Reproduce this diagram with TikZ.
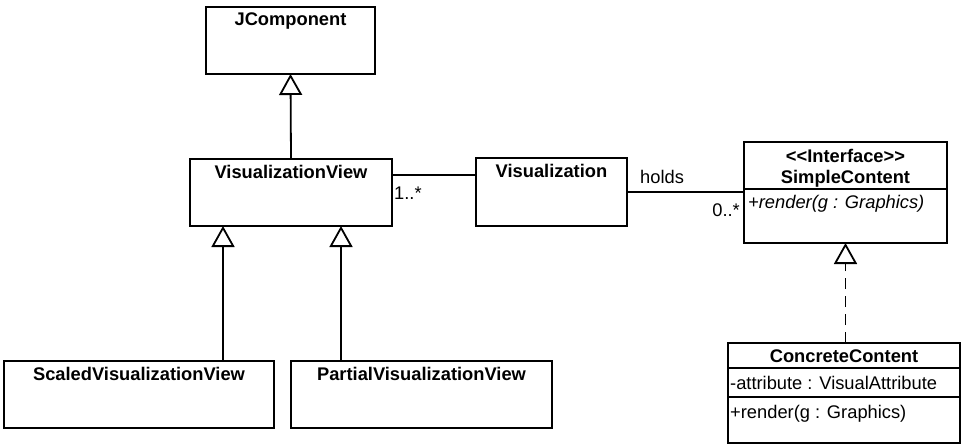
\documentclass[tikz,border=0pt]{standalone}
\usepackage{fontspec}
\setmainfont{Liberation Sans}[Ligatures=TeXOff]
\usetikzlibrary{arrows.meta}
\tikzset{
  cls/.style={draw, line width=1.8pt, anchor=north west, inner sep=0pt, outer sep=0pt},
  ttl/.style={font=\bfseries\fontsize{18.3}{21}\selectfont, anchor=base, inner sep=0pt},
  mbr/.style={font=\fontsize{18.3}{21}\selectfont, anchor=base west, inner sep=0pt},
  lbl/.style={font=\fontsize{18.3}{21}\selectfont, inner sep=0pt},
  divider/.style={line width=1.8pt},
  assoc/.style={line width=1.8pt},
  inherit/.style={line width=1.8pt, -{Triangle[open, length=21pt, width=23pt, line width=1.8pt]}},
  realize/.style={line width=1.8pt, dash pattern=on 11pt off 7pt, -{Triangle[open, length=21pt, width=23pt, line width=1.8pt]}},
}
\begin{document}
\begin{tikzpicture}[x=1pt,y=-1pt]
\useasboundingbox (0,0) rectangle (961,444);
% classes
\node[cls, minimum width=169pt, minimum height=67pt] (jc)  at (206,7) {};
\node[cls, minimum width=202pt, minimum height=67pt] (vv)  at (190,159) {};
\node[cls, minimum width=151pt, minimum height=68pt] (vis) at (476,158) {};
\node[cls, minimum width=203pt, minimum height=101pt] (sc) at (744,142) {};
\node[cls, minimum width=232pt, minimum height=100pt] (cc) at (728,343) {};
\node[cls, minimum width=270pt, minimum height=67pt] (svv) at (4,361) {};
\node[cls, minimum width=261pt, minimum height=67pt] (pvv) at (291,361) {};
% titles
\node[ttl] (jct)  at ([yshift=-19pt]jc.north)  {JComponent};
\node[ttl] (vvt)  at ([yshift=-19pt]vv.north)  {VisualizationView};
\node[ttl] (vist) at ([yshift=-19pt]vis.north) {Visualization};
\node[ttl] (sct1) at ([yshift=-20pt]sc.north)  {<<Interface>>};
\node[ttl] (sct2) at ([yshift=-41pt]sc.north)  {SimpleContent};
\node[ttl] (cct)  at ([yshift=-19pt]cc.north)  {ConcreteContent};
\node[ttl] (svvt) at ([yshift=-19pt]svv.north) {ScaledVisualizationView};
\node[ttl] (pvvt) at ([yshift=-19pt]pvv.north) {PartialVisualizationView};
% compartments
\draw[divider] ([yshift=-47pt]sc.north west) -- ([yshift=-47pt]sc.north east);
\draw[divider] ([yshift=-25pt]cc.north west) -- ([yshift=-25pt]cc.north east);
\draw[divider] ([yshift=-54pt]cc.north west) -- ([yshift=-54pt]cc.north east);
% members
\node[mbr, font=\itshape\fontsize{18.3}{21}\selectfont] (scm) at ([xshift=4pt,yshift=-66pt]sc.north west) {+render(g : Graphics)};
\node[mbr] (cca) at ([xshift=2pt,yshift=-46pt]cc.north west) {-attribute : VisualAttribute};
\node[mbr] (ccm) at ([xshift=2pt,yshift=-75pt]cc.north west) {+render(g : Graphics)};
% generalizations
\draw[inherit] (vv.north) -- (jc.south);
\coordinate (gs) at ([xshift=33pt]vv.south west);
\coordinate (gp) at ([xshift=151pt]vv.south west);
\draw[inherit] (svv.north -| gs) -- (gs);
\draw[inherit] (pvv.north -| gp) -- (gp);
% realization
\draw[realize] (cc.north -| sc.south) -- (sc.south);
% associations
\coordinate (a1) at ([yshift=17.5pt]vv.east);
\draw[assoc] (a1) -- (a1 -| vis.west);
\node[lbl, anchor=base west] (m1) at (394,199) {1..*};
\draw[assoc] (vis.east) -- (vis.east -| sc.west);
\node[lbl, anchor=base west] (hl) at (640,183) {holds};
\node[lbl, anchor=base east] (m2) at (740,216) {0..*};
\end{tikzpicture}
\end{document}
